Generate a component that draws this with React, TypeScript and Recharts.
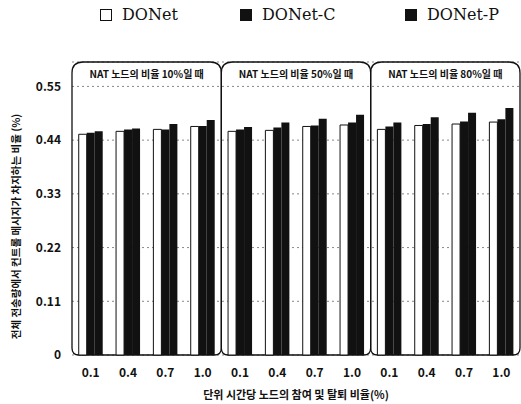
import { BarChart, Bar, XAxis, YAxis, CartesianGrid, ReferenceArea, Legend } from 'recharts';

const rates = ['0.1', '0.4', '0.7', '1.0'];
const panels = ['p10', 'p50', 'p80'];
const panelTitles = ['NAT 노드의 비율 10%일 때', 'NAT 노드의 비율 50%일 때', 'NAT 노드의 비율 80%일 때'];
const donet = [0.452, 0.458, 0.462, 0.468, 0.458, 0.46, 0.468, 0.471, 0.462, 0.47, 0.473, 0.477];
const donetC = [0.455, 0.462, 0.462, 0.469, 0.462, 0.466, 0.47, 0.476, 0.468, 0.473, 0.478, 0.483];
const donetP = [0.458, 0.464, 0.473, 0.481, 0.467, 0.476, 0.484, 0.492, 0.476, 0.487, 0.496, 0.506];
const yTicks = [0, 0.11, 0.22, 0.33, 0.44, 0.55];
const yTitle = '전체 전송량에서 컨트롤 메시지가 차지하는 비율 (%)';
const xTitle = '단위 시간당 노드의 참여 및 탈퇴 비율(%)';

const data = panels.flatMap((p, pi) =>
  rates.map((r, ri) => ({
    id: `${p}-${r}`,
    rate: r,
    DONet: donet[pi * 4 + ri],
    'DONet-C': donetC[pi * 4 + ri],
    'DONet-P': donetP[pi * 4 + ri],
  }))
);

const sans = "'Noto Sans CJK KR', 'Noto Sans', sans-serif";

function PanelBox(props: any) {
  const { x, y, width, height } = props;
  const r = 11;
  const rb = 7;
  const d = `M${x},${y + r} Q${x},${y} ${x + r},${y} L${x + width - r},${y} Q${x + width},${y} ${x + width},${y + r}
    L${x + width},${y + height - rb} Q${x + width},${y + height} ${x + width - rb},${y + height}
    L${x + rb},${y + height} Q${x},${y + height} ${x},${y + height - rb} Z`;
  return <path d={d} fill="none" stroke="#111" strokeWidth={1.3} />;
}

function LegendContent() {
  const items = [
    { name: 'DONet', fill: '#fff', left: 100 },
    { name: 'DONet-C', fill: '#111', left: 240 },
    { name: 'DONet-P', fill: '#111', left: 405 },
  ];
  return (
    <div style={{ position: 'relative', height: 20, fontFamily: "'DejaVu Serif', serif", fontSize: 16, color: '#111' }}>
      {items.map(it => (
        <div key={it.name} style={{ position: 'absolute', left: it.left, top: 0, display: 'flex', alignItems: 'center', gap: 10 }}>
          <span style={{ width: 10, height: 10, background: it.fill, border: '1.5px solid #111', display: 'inline-block' }} />
          {it.name}
        </div>
      ))}
    </div>
  );
}

function YTitle(props: any) {
  const { viewBox } = props;
  const cx = 15;
  const cy = viewBox.y + viewBox.height / 2 + 18;
  return (
    <text x={cx} y={cy} transform={`rotate(-90 ${cx} ${cy})`} textAnchor="middle" dominantBaseline="central"
      fontFamily={sans} fontWeight="bold" fontSize={10.5} fill="#111">
      {yTitle}
    </text>
  );
}

export default function App() {
  return (
    <div style={{ position: 'absolute', left: 0, top: 0, width: 521, height: 404, background: '#fff' }}>
      <BarChart width={521} height={404} data={data} margin={{ top: 42, right: 1, bottom: 0, left: 0 }}
        barGap={0} barCategoryGap="18%">
        <CartesianGrid vertical={false} stroke="#888" strokeDasharray="2 3" />
        <Legend verticalAlign="top" content={<LegendContent />} wrapperStyle={{ top: 5, left: 0, width: 521 }} />
        <XAxis dataKey="id" axisLine={false} tickLine={false} height={49} interval={0}
          tickFormatter={(_v: string, i: number) => data[i].rate}
          tick={{ fontFamily: sans, fontWeight: 'bold', fontSize: 12, fill: '#111' }} tickMargin={7}
          label={{ value: xTitle, position: 'insideBottom', offset: 5, fontFamily: sans, fontWeight: 'bold', fontSize: 11, fill: '#111' }} />
        <YAxis domain={[0, 0.6]} ticks={yTicks} width={72} axisLine={false} tickLine={false} tickMargin={5}
          tickFormatter={(v: number) => (v === 0 ? '0' : v.toFixed(2))}
          tick={{ fontFamily: sans, fontWeight: 'bold', fontSize: 12, fill: '#111' }}
          label={<YTitle />} />
        <Bar dataKey="DONet" fill="#fff" stroke="#111" strokeWidth={1} isAnimationActive={false} />
        <Bar dataKey="DONet-C" fill="#111" isAnimationActive={false} />
        <Bar dataKey="DONet-P" fill="#111" isAnimationActive={false} />
        {panels.map((p, i) => (
          <ReferenceArea key={p} x1={`${p}-0.1`} x2={`${p}-1.0`} y1={0} y2={0.6} ifOverflow="visible"
            shape={<PanelBox />}
            label={{ value: panelTitles[i], position: 'insideTop', offset: 9, fontFamily: sans, fontWeight: 'bold', fontSize: 10, fill: '#111' }} />
        ))}
      </BarChart>
    </div>
  );
}
